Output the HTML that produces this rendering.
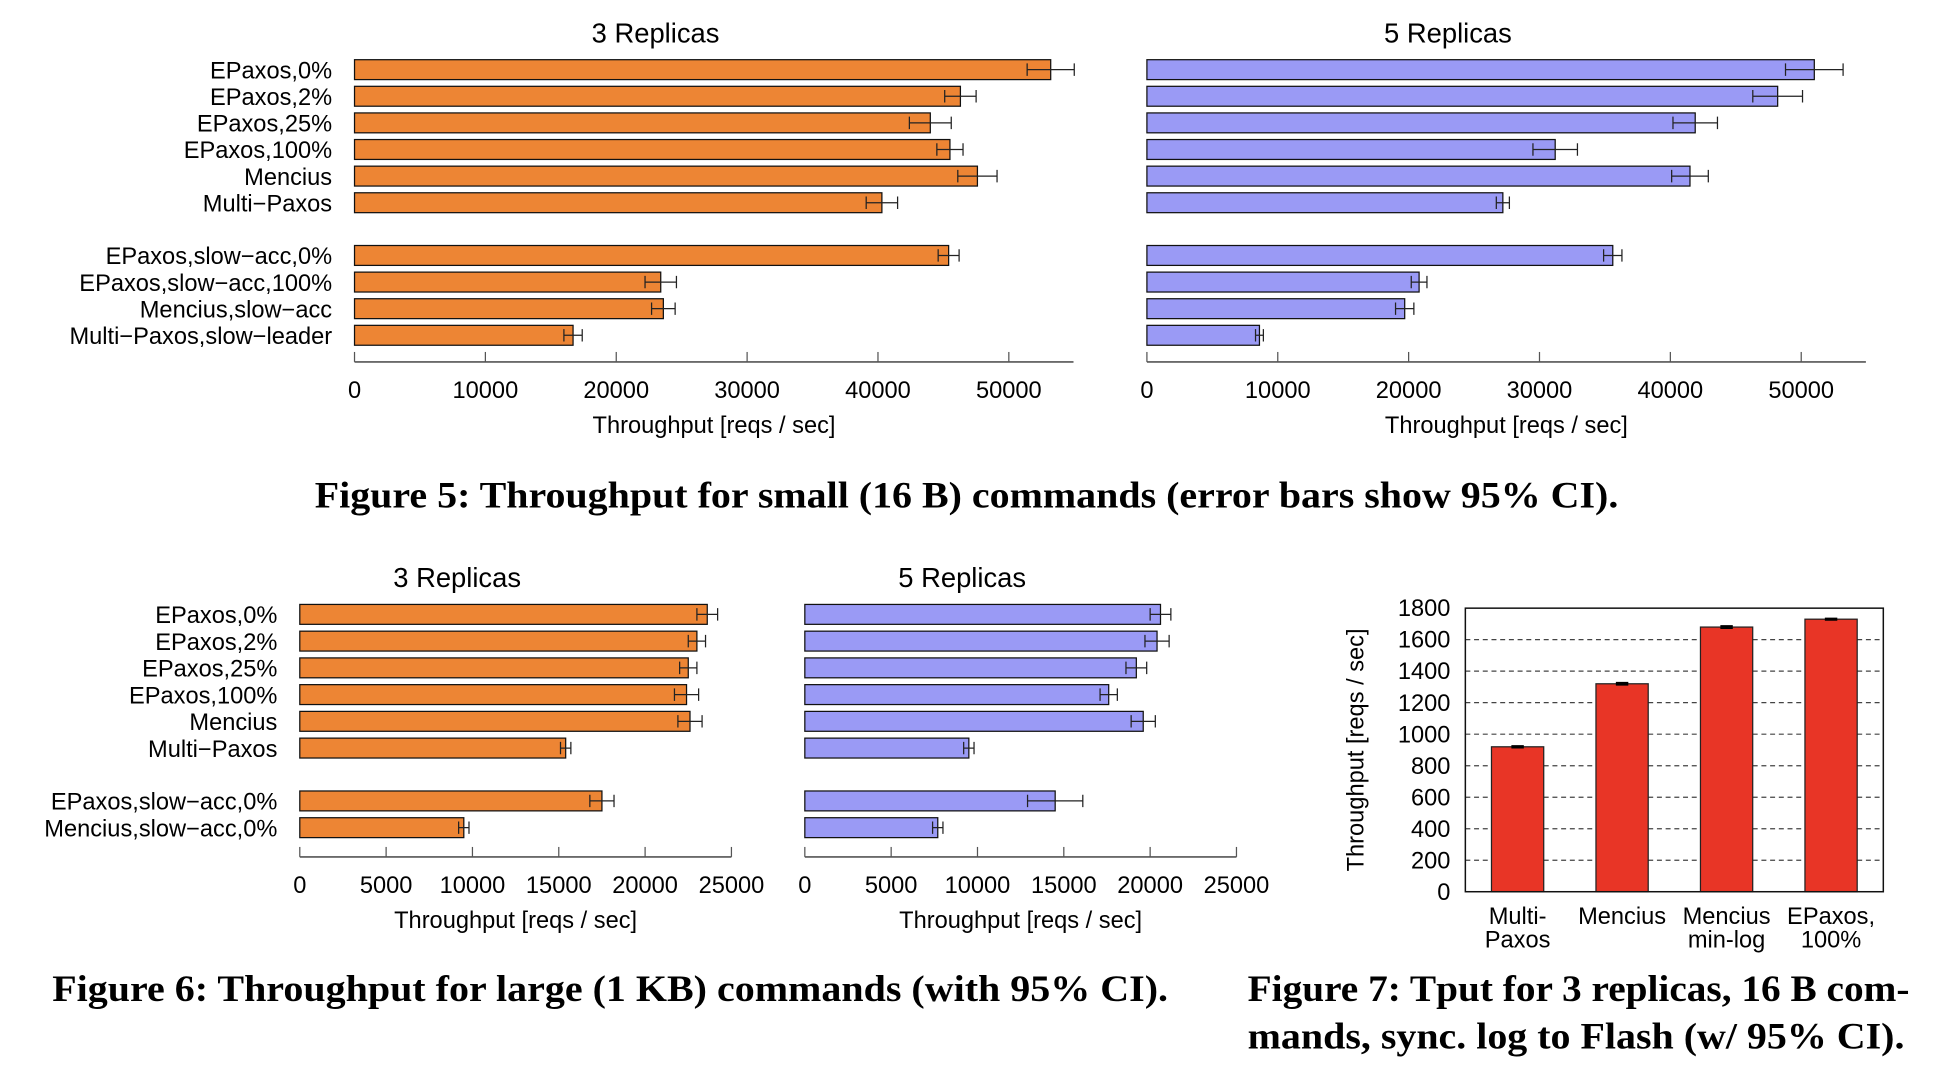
<!DOCTYPE html>
<html><head><meta charset="utf-8"><style>
html,body{margin:0;padding:0;background:#fff;}
svg{display:block;}
.lab{font-family:"Liberation Sans",sans-serif;font-size:19px;fill:#000;}
.ttl{font-family:"Liberation Sans",sans-serif;font-size:22px;fill:#000;}
.cap{font-family:"Liberation Serif",serif;font-weight:bold;font-size:30px;fill:#000;}
</style></head><body>
<svg id="root" width="1948" height="1082" viewBox="0 0 1566 870" preserveAspectRatio="none" xmlns="http://www.w3.org/2000/svg">
<text class="cap" x="253" y="408" textLength="1048" lengthAdjust="spacingAndGlyphs">Figure 5: Throughput for small (16 B) commands (error bars show 95% CI).</text>
<text class="cap" x="42" y="805" textLength="897" lengthAdjust="spacingAndGlyphs">Figure 6: Throughput for large (1 KB) commands (with 95% CI).</text>
<text class="cap" x="1003" y="805" textLength="532" lengthAdjust="spacingAndGlyphs">Figure 7: Tput for 3 replicas, 16 B com-</text>
<text class="cap" x="1003" y="843" textLength="528" lengthAdjust="spacingAndGlyphs">mands, sync. log to Flash (w/ 95% CI).</text>
</svg>
<script>
// Figure 5 data
const f5Categories = ["EPaxos,0%","EPaxos,2%","EPaxos,25%","EPaxos,100%","Mencius","Multi\u2212Paxos","EPaxos,slow\u2212acc,0%","EPaxos,slow\u2212acc,100%","Mencius,slow\u2212acc","Multi\u2212Paxos,slow\u2212leader"];
const f5Rep3 = [53200,46300,44000,45500,47600,40300,45400,23400,23600,16700];
const f5Rep3Err = [1800,1200,1600,1000,1500,1200,800,1200,900,700];
const f5Rep5 = [51000,48200,41900,31200,41500,27200,35600,20800,19700,8600];
const f5Rep5Err = [2200,1900,1700,1700,1400,500,700,600,700,300];
const f5Ticks = [0,10000,20000,30000,40000,50000];
// Figure 6 data
const f6Categories = ["EPaxos,0%","EPaxos,2%","EPaxos,25%","EPaxos,100%","Mencius","Multi\u2212Paxos","EPaxos,slow\u2212acc,0%","Mencius,slow\u2212acc,0%"];
const f6Rep3 = [23600,23000,22500,22400,22600,15400,17500,9500];
const f6Rep3Err = [600,500,500,700,700,300,700,300];
const f6Rep5 = [20600,20400,19200,17600,19600,9500,14500,7700];
const f6Rep5Err = [600,700,600,500,700,300,1600,300];
const f6Ticks = [0,5000,10000,15000,20000,25000];
// Figure 7 data
const f7Categories = [["Multi-","Paxos"],["Mencius"],["Mencius","min-log"],["EPaxos,","100%"]];
const f7Values = [920,1320,1680,1730];
const f7Err = [5,6,6,4];
const f7Ticks = [0,200,400,600,800,1000,1200,1400,1600,1800];

const NS="http://www.w3.org/2000/svg";
const root=document.getElementById('root');
function mk(tag,attrs,parent,text){const e=document.createElementNS(NS,tag);for(const k in attrs)e.setAttribute(k,attrs[k]);if(text!==undefined)e.textContent=text;(parent||root).appendChild(e);return e;}

function hpanel(name,cfg,cats,vals,errs,ticks,color,showLabels){
  const g=mk('g',{});
  
  
  const x=v=>cfg.x0+(v-cfg.d0)/(cfg.d1-cfg.d0)*(cfg.x1-cfg.x0);
  const rowY=i=>cfg.yTop+i*cfg.step+(i>=cfg.gapAfter?cfg.gap:0);
  const t=mk('text',{class:'ttl',x:(cfg.x0+cfg.xEnd)/2-47,y:cfg.titleY,'text-anchor':'middle'},g,cfg.title);
  
  
  vals.forEach((v,i)=>{
    const cy=rowY(i);
    const r=mk('rect',{x:x(0),y:cy-8,width:x(v)-x(0),height:16,fill:color,stroke:'#111','stroke-width':1},g);
    
    
    const e=errs[i];
    const eb=mk('path',{d:`M${x(v-e)},${cy}H${x(v+e)}M${x(v-e)},${cy-5}V${cy+5}M${x(v+e)},${cy-5}V${cy+5}`,stroke:'#222','stroke-width':1,fill:'none'},g);
    
    
    if(showLabels){
      const l=mk('text',{class:'lab',x:cfg.x0-18,y:cy+7,'text-anchor':'end'},g,cats[i]);
      
      
    }
  });
  const ax=mk('line',{x1:cfg.x0,x2:cfg.xEnd,y1:cfg.axisY,y2:cfg.axisY,stroke:'#555','stroke-width':1.3},g);
  
  
  ticks.forEach(tv=>{
    mk('line',{x1:x(tv),x2:x(tv),y1:cfg.axisY-8,y2:cfg.axisY,stroke:'#555','stroke-width':1},g);
    const tl=mk('text',{class:'lab',x:x(tv),y:cfg.axisY+29,'text-anchor':'middle'},g,String(tv));
    
    
  });
  const xt=mk('text',{class:'lab',x:(cfg.x0+cfg.xEnd)/2,y:cfg.axisY+57,'text-anchor':'middle'},g,'Throughput [reqs / sec]');
  
  
}

const f5L={x0:285,x1:811,d0:0,d1:50000,xEnd:863,yTop:56,step:21.4,gapAfter:6,gap:21,axisY:291,titleY:34,title:'3 Replicas'};
const f5R=Object.assign({},f5L,{x0:922,x1:1448,xEnd:1500,title:'5 Replicas'});
hpanel('fig5-3-replicas-chart',f5L,f5Categories,f5Rep3,f5Rep3Err,f5Ticks,'#ED8534',true);
hpanel('fig5-5-replicas-chart',f5R,f5Categories,f5Rep5,f5Rep5Err,f5Ticks,'#9A9AF5',false);
const f6L={x0:241,x1:588,d0:0,d1:25000,xEnd:588,yTop:494,step:21.5,gapAfter:6,gap:21,axisY:689,titleY:472,title:'3 Replicas'};
const f6R=Object.assign({},f6L,{x0:647,x1:994,xEnd:994,title:'5 Replicas'});
hpanel('fig6-3-replicas-chart',f6L,f6Categories,f6Rep3,f6Rep3Err,f6Ticks,'#ED8534',true);
hpanel('fig6-5-replicas-chart',f6R,f6Categories,f6Rep5,f6Rep5Err,f6Ticks,'#9A9AF5',false);

// Figure 7
(function(){
  const g=mk('g',{});
  
  
  const L=1178,R=1514,T=489,B=717;
  const y=v=>B-v/1800*(B-T);
  f7Ticks.forEach(tv=>{
    if(tv>0&&tv<1800){const gl=mk('line',{x1:L,x2:R,y1:y(tv),y2:y(tv),stroke:'#444','stroke-width':1,'stroke-dasharray':'4,3'},g);
    
    }
    const tl=mk('text',{class:'lab',x:L-12,y:y(tv)+6.5,'text-anchor':'end'},g,String(tv));
    
    
  });
  const n=f7Values.length, slot=(R-L)/n, bw=42;
  f7Values.forEach((v,i)=>{
    const cx=L+slot*(i+0.5);
    const r=mk('rect',{x:cx-bw/2,y:y(v),width:bw,height:B-y(v),fill:'#E83526',stroke:'#222','stroke-width':1},g);
    
    
    const e=f7Err[i];
    const eb=mk('path',{d:`M${cx},${y(v+e)}V${y(v-e)}M${cx-5},${y(v+e)}H${cx+5}M${cx-5},${y(v-e)}H${cx+5}`,stroke:'#000','stroke-width':1.5},g);
    
    
    f7Categories[i].forEach((ln,j)=>{
      const tl=mk('text',{class:'lab',x:cx,y:743+j*19,'text-anchor':'middle'},g,ln);
      
      
    });
  });
  const fr=mk('rect',{x:L,y:T,width:R-L,height:B-T,fill:'none',stroke:'#111','stroke-width':1.2},g);
  
  
  const yt=mk('text',{class:'lab',x:0,y:0,'text-anchor':'middle',transform:`translate(1096,${(T+B)/2}) rotate(-90)`},g,'Throughput [reqs / sec]');
  
  
})();
</script>
</body></html>
